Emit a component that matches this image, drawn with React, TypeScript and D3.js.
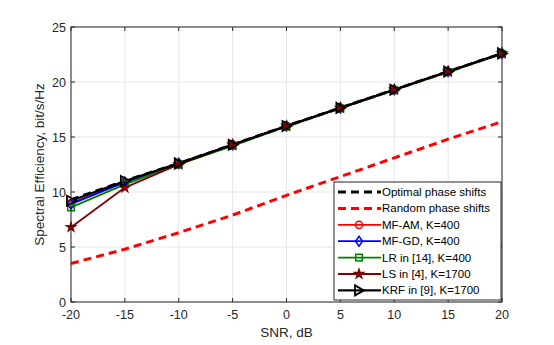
import * as d3 from 'd3';

const snr = [-20, -15, -10, -5, 0, 5, 10, 15, 20];
const optimal = [9.3, 11.0, 12.6, 14.3, 16.0, 17.65, 19.3, 20.95, 22.6];
const random = [3.5, 4.8, 6.3, 7.9, 9.7, 11.4, 13.1, 14.8, 16.4];
const mfAm = [9.0, 10.9, 12.6, 14.3, 16.0, 17.65, 19.3, 20.95, 22.6];
const mfGd = [8.9, 10.9, 12.6, 14.3, 16.0, 17.65, 19.3, 20.95, 22.6];
const lr = [8.6, 10.7, 12.5, 14.2, 15.95, 17.6, 19.25, 20.9, 22.55];
const ls = [6.8, 10.4, 12.5, 14.3, 16.0, 17.65, 19.3, 20.95, 22.6];
const krf = [9.2, 11.0, 12.6, 14.3, 16.0, 17.65, 19.3, 20.95, 22.6];
const xTicks = [-20, -15, -10, -5, 0, 5, 10, 15, 20];
const yTicks = [0, 5, 10, 15, 20, 25];

const series = [
  { name: 'Optimal phase shifts', values: optimal, color: '#000000', dash: '8,5', width: 3, marker: '' },
  { name: 'Random phase shifts', values: random, color: '#ff0000', dash: '8,5', width: 3, marker: '' },
  { name: 'MF-AM, K=400', values: mfAm, color: '#ff0000', dash: '', width: 1.8, marker: 'circle' },
  { name: 'MF-GD, K=400', values: mfGd, color: '#0000ff', dash: '', width: 1.8, marker: 'diamond' },
  { name: 'LR in [14], K=400', values: lr, color: '#008000', dash: '', width: 1.8, marker: 'square' },
  { name: 'LS in [4], K=1700', values: ls, color: '#800000', dash: '', width: 1.8, marker: 'star' },
  { name: 'KRF in [9], K=1700', values: krf, color: '#000000', dash: '', width: 2.2, marker: 'triangle' },
];

const W = 554;
const H = 345;
const m = { left: 71, right: 52, top: 27, bottom: 43 };
const font = 'Liberation Sans, Arial, sans-serif';

function Marker({ type, x, y, color }: { type: string; x: number; y: number; color: string }) {
  if (type === 'circle') return <circle cx={x} cy={y} r={3.6} fill="none" stroke={color} strokeWidth={1.5} />;
  if (type === 'square') return <rect x={x - 3.3} y={y - 3.3} width={6.6} height={6.6} fill="none" stroke={color} strokeWidth={1.5} />;
  if (type === 'diamond')
    return <path d={`M${x},${y - 5}L${x + 3.5},${y}L${x},${y + 5}L${x - 3.5},${y}Z`} fill="none" stroke={color} strokeWidth={1.5} />;
  if (type === 'star')
    return <path d={d3.symbol(d3.symbolStar, 28)()!} transform={`translate(${x},${y})`} fill={color} stroke={color} strokeWidth={1.2} />;
  if (type === 'triangle')
    return <path d={`M${x - 4},${y - 5}L${x + 5},${y}L${x - 4},${y + 5}Z`} fill="none" stroke={color} strokeWidth={1.8} />;
  return null;
}

export default function App() {
  const x = d3.scaleLinear().domain([-20, 20]).range([m.left, W - m.right]);
  const y = d3.scaleLinear().domain([0, 25]).range([H - m.bottom, m.top]);
  const line = d3
    .line<number>()
    .x((_, i) => x(snr[i]))
    .y((d) => y(d));

  const lx = 334;
  const ly = 182;
  const lw = 167;
  const lh = 118;
  const step = 16.4;

  return (
    <svg width={W} height={H} style={{ position: 'absolute', left: 0, top: 0, background: '#fff' }} fontFamily={font}>
      <rect x={m.left} y={m.top} width={W - m.left - m.right} height={H - m.top - m.bottom} fill="#fff" />
      {xTicks.map((t) => (
        <line key={'gx' + t} x1={x(t)} x2={x(t)} y1={m.top} y2={H - m.bottom} stroke="#e6e6e6" strokeWidth={1} />
      ))}
      {yTicks.map((t) => (
        <line key={'gy' + t} x1={m.left} x2={W - m.right} y1={y(t)} y2={y(t)} stroke="#e6e6e6" strokeWidth={1} />
      ))}
      {series.map((s) => (
        <path key={s.name} d={line(s.values)!} fill="none" stroke={s.color} strokeWidth={s.width} strokeDasharray={s.dash || undefined} />
      ))}
      {series.map((s) =>
        s.marker ? s.values.map((v, i) => <Marker key={s.name + i} type={s.marker} x={x(snr[i])} y={y(v)} color={s.color} />) : null,
      )}
      <rect x={m.left} y={m.top} width={W - m.left - m.right} height={H - m.top - m.bottom} fill="none" stroke="#262626" strokeWidth={1} />
      {xTicks.map((t) => (
        <g key={'tx' + t}>
          <line x1={x(t)} x2={x(t)} y1={H - m.bottom} y2={H - m.bottom - 4} stroke="#262626" />
          <line x1={x(t)} x2={x(t)} y1={m.top} y2={m.top + 4} stroke="#262626" />
          <text x={x(t)} y={H - m.bottom + 17} textAnchor="middle" fontSize={12.5} fill="#262626">
            {t}
          </text>
        </g>
      ))}
      {yTicks.map((t) => (
        <g key={'ty' + t}>
          <line x1={m.left} x2={m.left + 4} y1={y(t)} y2={y(t)} stroke="#262626" />
          <line x1={W - m.right} x2={W - m.right - 4} y1={y(t)} y2={y(t)} stroke="#262626" />
          <text x={m.left - 5} y={y(t) + 4.5} textAnchor="end" fontSize={12.5} fill="#262626">
            {t}
          </text>
        </g>
      ))}
      <text x={(m.left + W - m.right) / 2} y={H - 8} textAnchor="middle" fontSize={13.5} fill="#262626">
        SNR, dB
      </text>
      <text
        transform={`translate(44,${(m.top + H - m.bottom) / 2}) rotate(-90)`}
        textAnchor="middle"
        fontSize={13.5}
        fill="#262626"
      >
        Spectral Efficiency, bit/s/Hz
      </text>
      <rect x={lx} y={ly} width={lw} height={lh} fill="#fff" stroke="#262626" strokeWidth={1} />
      {series.map((s, i) => {
        const cy = ly + 10 + i * step;
        return (
          <g key={'lg' + s.name}>
            <line x1={lx + 4} x2={lx + 47} y1={cy} y2={cy} stroke={s.color} strokeWidth={s.width} strokeDasharray={s.dash || undefined} />
            {s.marker ? <Marker type={s.marker} x={lx + 25} y={cy} color={s.color} /> : null}
            <text x={lx + 48} y={cy + 4} fontSize={11.5} fill="#000">
              {s.name}
            </text>
          </g>
        );
      })}
    </svg>
  );
}
